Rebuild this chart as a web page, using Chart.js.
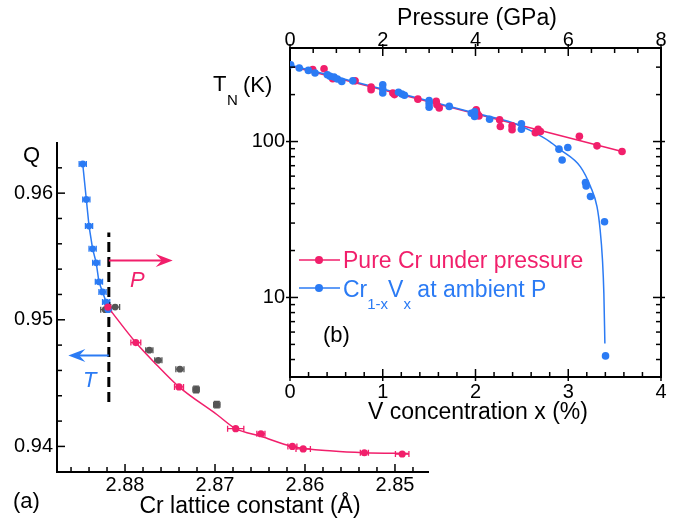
<!DOCTYPE html>
<html>
<head>
<meta charset="utf-8">
<script src="https://cdn.jsdelivr.net/npm/chart.js@4.4.1/dist/chart.umd.min.js"></script>
<style>
  html, body { margin: 0; padding: 0; background: #fff; }
  #wrap { position: relative; width: 684px; height: 521px; }
  canvas { position: absolute; left: 0; top: 0; }
</style>
</head>
<body>
<div id="wrap">
  <canvas id="chartA" width="684" height="521"></canvas>
  <canvas id="chartB" width="684" height="521"></canvas>
</div>
<script>
const PINK = "#f11f6b";
const BLUE = "#2b7bf4";
const GREY = "#555555";
const FONT = '"Liberation Sans", Arial, sans-serif';

// ---- panel (a): Q vs Cr lattice constant ----
const blueA_a = [2.8847, 2.8843, 2.8840, 2.8836, 2.8832, 2.8829, 2.8825, 2.8821, 2.8819];
const blueA_q = [0.9623, 0.9595, 0.9574, 0.9556, 0.9545, 0.9530, 0.9522, 0.9514, 0.9508];
const blueA_err = [0.0004, 0.0004, 0.0004, 0.0004, 0.0004, 0.0004, 0.0004, 0.0004, 0.0004];

const pinkA_a = [2.8819, 2.8788, 2.8740, 2.8677, 2.8649, 2.8614, 2.8602, 2.8534, 2.8492];
const pinkA_q = [0.9510, 0.9482, 0.9447, 0.9414, 0.9410, 0.9400, 0.9398, 0.9395, 0.9394];
const pinkA_err = [0.0003, 0.00055, 0.0005, 0.0009, 0.00045, 0.0005, 0.0008, 0.00045, 0.00075];

const greyA_a = [2.8822, 2.8811, 2.8773, 2.8763, 2.8739, 2.8721, 2.8698];
const greyA_q = [0.9508, 0.9510, 0.9476, 0.9468, 0.9461, 0.9445, 0.9433];
const greyA_xerr = [0.0005, 0.0005, 0.0004, 0.0004, 0.00045, 0.00035, 0.00035];
const greyA_yerr = [0, 0, 0, 0, 0, 0.00026, 0.00025];

// fitted curve through the pressure data
const fitA_a = [2.8819, 2.8788, 2.8765, 2.8740, 2.8698, 2.8677, 2.8649, 2.8614, 2.8569, 2.8534, 2.8485];
const fitA_q = [0.9510, 0.9482, 0.94645, 0.9447, 0.94252, 0.9414, 0.9408, 0.9400, 0.93963, 0.9395, 0.93945];

const boundaryA = 2.8818;            // dashed line
const boundaryQ = [0.9435, 0.9569];
const aMajor = [2.85, 2.86, 2.87, 2.88];
const qMajor = [0.94, 0.95, 0.96];

// ---- panel (b): T_N vs V concentration / pressure ----
const blueB_v = [0.007, 0.10, 0.198, 0.27, 0.403, 0.432, 0.475, 0.511, 0.558, 0.677, 1.0, 1.0, 1.0, 1.17, 1.206, 1.234,
  1.50, 1.50, 1.50, 1.717, 1.955, 1.99, 1.99, 2.152, 2.495, 2.495, 2.90, 2.934, 2.995, 3.186, 3.193, 3.24, 3.391, 3.402];
const blueB_t = [311, 296, 286, 275, 268, 262, 259, 252, 243, 245, 231, 217, 205, 207, 202, 198,
  183, 175, 166, 168, 152, 155, 145, 139, 130, 120, 89.4, 76.2, 91.5, 54.6, 51.9, 44.4, 30.6, 4.22];

const pinkB_p = [0.49, 0.734, 0.922, 1.404, 1.749, 1.749, 2.218, 2.253, 2.758, 3.153, 3.168, 3.218, 4.016, 4.038, 4.073,
  4.52, 4.536, 4.788, 4.788, 5.29, 5.35, 5.40, 6.24, 6.62, 7.16];
const pinkB_t = [289, 293, 253, 245, 224, 215, 205, 200, 187, 181, 172, 164, 160, 151, 146,
  138, 125, 126, 119, 114, 120, 116, 108, 93.8, 86.3];

const fitB_v = [0, 0.5, 1.0, 1.5, 2.0, 2.4, 2.6, 2.8, 2.91, 3.13, 3.24, 3.31, 3.344, 3.369, 3.384, 3.395];
const fitB_t = [310, 259, 217, 182, 152, 132, 117, 100, 89, 69, 51.4, 38.2, 27.1, 17.4, 10.6, 5.06];
const lineB_p = [0, 7.16];
const lineB_t = [305, 86.3];

const vMajor = [0, 1, 2, 3, 4];
const pMajor = [0, 2, 4, 6, 8];
const tMajor = [10, 100];

const pts = (xs, ys) => xs.map((x, i) => ({ x: x, y: ys[i] }));

function linTicks(min, max, step, majors) {
  const out = [];
  for (let n = Math.ceil(min / step - 1e-9); n <= Math.floor(max / step + 1e-9); n++) {
    const v = +(n * step).toFixed(6);
    out.push({ value: v, mj: majors.some(m => Math.abs(m - v) < step / 10) });
  }
  return out;
}
function logTicks(min, max, majors) {
  const out = [];
  for (let d = 1; d <= 1000; d *= 10) {
    for (let m = 1; m <= 9; m++) {
      const v = d * m;
      if (v >= min && v <= max) out.push({ value: v, mj: majors.includes(v) });
    }
  }
  return out;
}

// inward tick marks drawn along each axis
function innerTicks(outLen) {
  return {
    id: "innerTicks",
    afterDraw(chart) {
      const ctx = chart.ctx, ca = chart.chartArea;
      ctx.save();
      ctx.strokeStyle = "#000";
      ctx.lineWidth = 1.5;
      Object.values(chart.scales).forEach(s => {
        s.ticks.forEach(t => {
          const len = t.mj ? 8 : 5, o = t.mj ? outLen : 0;
          const p = s.getPixelForValue(t.value);
          ctx.beginPath();
          if (s.position === "left") { ctx.moveTo(ca.left - o, p); ctx.lineTo(ca.left + len, p); }
          if (s.position === "right") { ctx.moveTo(ca.right + o, p); ctx.lineTo(ca.right - len, p); }
          if (s.position === "bottom") { ctx.moveTo(p, ca.bottom + o); ctx.lineTo(p, ca.bottom - len); }
          if (s.position === "top") { ctx.moveTo(p, ca.top - o); ctx.lineTo(p, ca.top + len); }
          ctx.stroke();
        });
      });
      ctx.restore();
    }
  };
}

const errorBars = {
  id: "errorBars",
  beforeDatasetsDraw(chart) {
    const ctx = chart.ctx;
    chart.data.datasets.forEach((ds, di) => {
      if (!ds.errX && !ds.errY) return;
      const meta = chart.getDatasetMeta(di);
      const xs = chart.scales[meta.xAxisID], ys = chart.scales[meta.yAxisID];
      ctx.save();
      ctx.strokeStyle = ds.backgroundColor;
      ctx.lineWidth = 1.3;
      ds.data.forEach((p, i) => {
        const px = xs.getPixelForValue(p.x), py = ys.getPixelForValue(p.y);
        const ex = ds.errX ? ds.errX[i] : 0, ey = ds.errY ? ds.errY[i] : 0;
        ctx.beginPath();
        if (ex) {
          const l = xs.getPixelForValue(p.x - ex), r = xs.getPixelForValue(p.x + ex);
          ctx.moveTo(l, py); ctx.lineTo(r, py);
          ctx.moveTo(l, py - 3); ctx.lineTo(l, py + 3);
          ctx.moveTo(r, py - 3); ctx.lineTo(r, py + 3);
        }
        if (ey) {
          const t = ys.getPixelForValue(p.y + ey), b = ys.getPixelForValue(p.y - ey);
          ctx.moveTo(px, t); ctx.lineTo(px, b);
          ctx.moveTo(px - 3, t); ctx.lineTo(px + 3, t);
          ctx.moveTo(px - 3, b); ctx.lineTo(px + 3, b);
        }
        ctx.stroke();
      });
      ctx.restore();
    });
  }
};

function drawText(ctx, str, x, y, size, color, opts) {
  opts = opts || {};
  ctx.font = (opts.italic ? "italic " : "") + size + "px " + FONT;
  ctx.fillStyle = color;
  ctx.textAlign = opts.align || "left";
  ctx.textBaseline = "alphabetic";
  ctx.fillText(str, x, y);
  return ctx.measureText(str).width;
}

function arrow(ctx, x0, y0, x1, y1, color) {
  const ang = Math.atan2(y1 - y0, x1 - x0), len = Math.hypot(x1 - x0, y1 - y0);
  ctx.save();
  ctx.translate(x1, y1);
  ctx.rotate(ang);
  ctx.strokeStyle = color;
  ctx.fillStyle = color;
  ctx.lineWidth = 2;
  ctx.beginPath(); ctx.moveTo(-len, 0); ctx.lineTo(-9, 0); ctx.stroke();
  ctx.beginPath();
  ctx.moveTo(0, 0); ctx.lineTo(-17, -6.5); ctx.lineTo(-11, 0); ctx.lineTo(-17, 6.5);
  ctx.closePath(); ctx.fill();
  ctx.restore();
}

const decorA = {
  id: "decorA",
  afterDraw(chart) {
    const ctx = chart.ctx, x = chart.scales.x, y = chart.scales.y;
    const bx = x.getPixelForValue(boundaryA);
    arrow(ctx, bx, y.getPixelForValue(0.95468), x.getPixelForValue(2.8747), y.getPixelForValue(0.95468), PINK);
    arrow(ctx, bx, y.getPixelForValue(0.94718), x.getPixelForValue(2.8863), y.getPixelForValue(0.94718), BLUE);
    drawText(ctx, "P", 130, 287, 22, PINK, { italic: true });
    drawText(ctx, "T", 83, 387, 22, BLUE, { italic: true });
    drawText(ctx, "Q", 23, 162, 22, "#000");
    drawText(ctx, "(a)", 13, 508, 22, "#000");
    drawText(ctx, "Cr lattice constant (\u00C5)", 250, 513, 23, "#000", { align: "center" });
  }
};

const decorB = {
  id: "decorB",
  afterDraw(chart) {
    const ctx = chart.ctx;
    drawText(ctx, "Pressure (GPa)", 477, 25, 23, "#000", { align: "center" });
    drawText(ctx, "V concentration x (%)", 478, 419, 23, "#000", { align: "center" });
    drawText(ctx, "T", 213, 91, 22, "#000");
    drawText(ctx, "N", 227, 105, 15, "#000");
    drawText(ctx, "(K)", 243, 92, 22, "#000");
    drawText(ctx, "(b)", 323, 342, 22, "#000");
    // legend
    [[PINK, 260], [BLUE, 288]].forEach(([c, ly]) => {
      ctx.strokeStyle = c; ctx.lineWidth = 1.5;
      ctx.beginPath(); ctx.moveTo(299, ly); ctx.lineTo(340, ly); ctx.stroke();
      ctx.fillStyle = c; ctx.beginPath(); ctx.arc(319, ly, 4, 0, Math.PI * 2); ctx.fill();
    });
    drawText(ctx, "Pure Cr under pressure", 343, 268, 23, PINK);
    let lx = 343;
    lx += drawText(ctx, "Cr", lx, 297, 23, BLUE);
    lx += drawText(ctx, "1-x", lx, 309, 15, BLUE);
    lx += drawText(ctx, "V", lx, 297, 23, BLUE);
    lx += drawText(ctx, "x", lx, 309, 15, BLUE);
    drawText(ctx, " at ambient P", lx, 297, 23, BLUE);
  }
};

Chart.defaults.font.family = FONT;
Chart.defaults.color = "#000";

const tickFont = { family: FONT, size: 20 };
function baseAxis(extra) {
  return Object.assign({
    grid: { display: false, drawTicks: false },
    border: { display: true, color: "#000", width: 2 },
  }, extra);
}

new Chart(document.getElementById("chartA"), {
  type: "scatter",
  data: {
    datasets: [
      { data: pts(pinkA_a, pinkA_q), errX: pinkA_err, backgroundColor: PINK, borderColor: PINK,
        pointRadius: 3.6, pointBorderWidth: 0, showLine: false },
      { data: pts(blueA_a, blueA_q), errX: blueA_err, backgroundColor: BLUE, borderColor: BLUE,
        pointRadius: 3.4, pointBorderWidth: 0, showLine: true, borderWidth: 1.5 },
      { data: pts(greyA_a, greyA_q), errX: greyA_xerr, errY: greyA_yerr, backgroundColor: GREY, borderColor: GREY,
        pointRadius: 3.4, pointBorderWidth: 0, showLine: false },
      { data: pts(fitA_a, fitA_q), borderColor: PINK, backgroundColor: PINK, showLine: true, borderWidth: 1.5,
        pointRadius: 0, cubicInterpolationMode: "monotone" },
      { data: pts([boundaryA, boundaryA], boundaryQ), borderColor: "#000", showLine: true, borderWidth: 3,
        borderDash: [10, 5], pointRadius: 0 }
    ]
  },
  options: {
    responsive: false,
    animation: false,
    layout: { padding: { top: 143, right: 256, left: 0, bottom: 0 } },
    plugins: { legend: { display: false }, tooltip: { enabled: false } },
    scales: {
      x: baseAxis({
        type: "linear", position: "bottom", reverse: true, min: 2.84633, max: 2.88756,
        afterBuildTicks: s => { s.ticks = linTicks(s.min, s.max, 0.002, aMajor); },
        afterFit: s => { s.height = 49; },
        ticks: { font: tickFont, padding: 1, autoSkip: false, maxRotation: 0,
          callback: (v, i, t) => t[i].mj ? v.toFixed(2) : "" }
      }),
      y: baseAxis({
        type: "linear", position: "left", min: 0.93798, max: 0.96396,
        afterBuildTicks: s => { s.ticks = linTicks(s.min, s.max, 0.002, qMajor); },
        afterFit: s => { s.width = 57; },
        ticks: { font: tickFont, padding: 4, autoSkip: false,
          callback: (v, i, t) => t[i].mj ? v.toFixed(2) : "" }
      })
    }
  },
  plugins: [errorBars, innerTicks(0), decorA]
});

new Chart(document.getElementById("chartB"), {
  type: "scatter",
  data: {
    datasets: [
      { data: pts(blueB_v, blueB_t), xAxisID: "xV", yAxisID: "yT", backgroundColor: BLUE, borderColor: BLUE,
        pointRadius: 3.8, pointBorderWidth: 0, showLine: false },
      { data: pts(pinkB_p, pinkB_t), xAxisID: "xP", yAxisID: "yT", backgroundColor: PINK, borderColor: PINK,
        pointRadius: 3.8, pointBorderWidth: 0, showLine: false },
      { data: pts(fitB_v, fitB_t), xAxisID: "xV", yAxisID: "yT", borderColor: BLUE, showLine: true,
        borderWidth: 1.5, pointRadius: 0, cubicInterpolationMode: "monotone" },
      { data: pts(lineB_p, lineB_t), xAxisID: "xP", yAxisID: "yT", borderColor: PINK, showLine: true,
        borderWidth: 1.5, pointRadius: 0 }
    ]
  },
  options: {
    responsive: false,
    animation: false,
    layout: { padding: { top: 0, right: 23, left: 230, bottom: 94 } },
    plugins: { legend: { display: false }, tooltip: { enabled: false } },
    scales: {
      xV: baseAxis({
        type: "linear", position: "bottom", min: 0, max: 4,
        afterBuildTicks: s => { s.ticks = linTicks(0, 4, 0.2, vMajor); },
        afterFit: s => { s.height = 50; },
        ticks: { font: tickFont, padding: 3, autoSkip: false, maxRotation: 0,
          callback: (v, i, t) => t[i].mj ? String(v) : "" }
      }),
      xP: baseAxis({
        type: "linear", position: "top", min: 0, max: 8,
        afterBuildTicks: s => { s.ticks = linTicks(0, 8, 0.5, pMajor); },
        afterFit: s => { s.height = 48; },
        ticks: { font: tickFont, padding: -4, autoSkip: false, maxRotation: 0,
          callback: (v, i, t) => t[i].mj ? String(v) : "" }
      }),
      yT: baseAxis({
        type: "logarithmic", position: "left", min: 3.09, max: 398,
        afterBuildTicks: s => { s.ticks = logTicks(3.09, 398, tMajor); },
        afterFit: s => { s.width = 60; },
        ticks: { font: tickFont, padding: 5, autoSkip: false,
          callback: (v, i, t) => t[i].mj ? String(v) : "" }
      }),
      yR: baseAxis({
        type: "logarithmic", position: "right", min: 3.09, max: 398,
        afterBuildTicks: s => { s.ticks = logTicks(3.09, 398, tMajor); },
        afterFit: s => { s.width = 0; },
        ticks: { display: false }
      })
    }
  },
  plugins: [innerTicks(4), decorB]
});
</script>
</body>
</html>
